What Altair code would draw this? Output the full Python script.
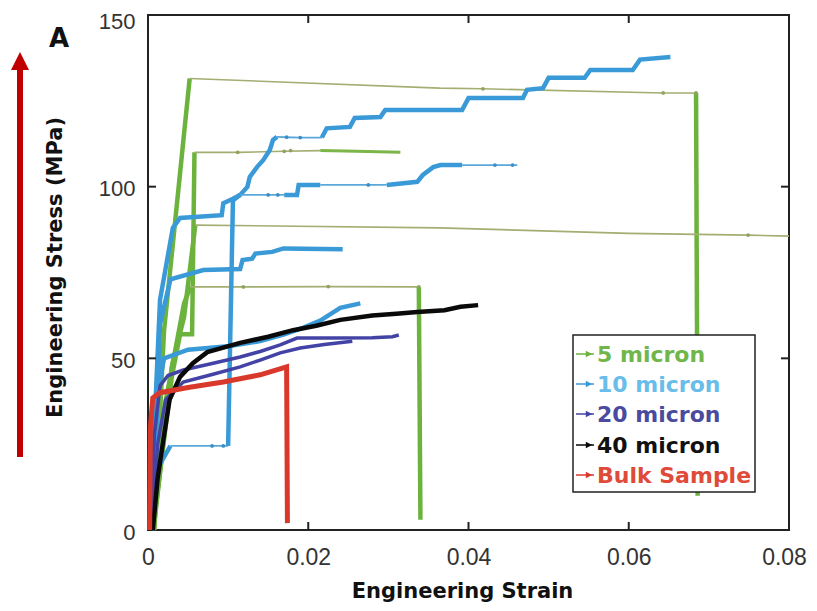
import altair as alt
import pandas as pd

# ------------------------------------------------------------------ data
# axis ticks / labels
x_ticks = [0, 0.02, 0.04, 0.06, 0.08]
y_ticks = [0, 50, 100, 150]
inner_x_ticks = [0.02, 0.04, 0.06]
inner_y_ticks = [50, 100]

# ---- 5 micron (green) specimens
g1_rise_x = [0.0008, 0.0020, 0.0052]
g1_rise_y = [0, 58, 131.5]
g1_flat_x = [0.0052, 0.0364, 0.0418, 0.0643, 0.0684]
g1_flat_y = [131.5, 128.7, 128.5, 127.3, 127.3]
g1_drop_x = [0.0684, 0.0686]
g1_drop_y = [127.3, 10]

g2_rise_x = [0.0006, 0.0030, 0.0040, 0.0055, 0.0058]
g2_rise_y = [0, 45, 57, 57, 110]
g2_flat_x = [0.0058, 0.0112, 0.0170, 0.0215]
g2_flat_y = [110, 110, 110.3, 110.5]
g2_dense_x = [0.0215, 0.0260, 0.0315]
g2_dense_y = [110.5, 110.3, 110]

g3_rise_x = [0.0007, 0.0030, 0.0045, 0.0059]
g3_rise_y = [0, 48, 62, 88.8]
g3_flat_x = [0.0059, 0.0364, 0.0600, 0.0749, 0.0800]
g3_flat_y = [88.8, 88.0, 86.4, 85.9, 85.6]

g4_rise_x = [0.0005, 0.0020, 0.0045, 0.0053]
g4_rise_y = [0, 35, 66, 70.8]
g4_flat_x = [0.0053, 0.0119, 0.0225, 0.0338]
g4_flat_y = [70.8, 70.8, 70.9, 70.8]
g4_drop_x = [0.0338, 0.0340]
g4_drop_y = [70.8, 3]

g_mark_x = [0.0418, 0.0643, 0.0684, 0.0112, 0.0170, 0.0178, 0.0749, 0.0119, 0.0225, 0.0338]
g_mark_y = [128.5, 127.3, 127.3, 110, 110.3, 110.5, 85.9, 70.8, 70.9, 70.8]

# ---- 10 micron (light blue) specimens
b1_rise_x = [0.0004, 0.0012, 0.0028]
b1_rise_y = [0, 18, 24.5]
b1_low_x = [0.0028, 0.0080, 0.0094, 0.0100]
b1_low_y = [24.5, 24.5, 24.5, 24.5]
b1_jump_x = [0.0100, 0.0106, 0.0115, 0.0124, 0.0127, 0.0136, 0.0144, 0.0152, 0.0156, 0.0161]
b1_jump_y = [24.5, 96, 97.6, 99.9, 102.8, 105.7, 107.8, 110.7, 113.6, 114.5]
b1_mid_x = [0.0161, 0.0173, 0.0190, 0.0217]
b1_mid_y = [114.5, 114.4, 114.3, 114.3]
b1_step_x = [0.0217, 0.0223, 0.0252, 0.0258, 0.0290, 0.0296, 0.0392, 0.0400, 0.0468,
             0.0473, 0.0493, 0.0500, 0.0545, 0.0552, 0.0605, 0.0614, 0.0652]
b1_step_y = [114.3, 117, 117.4, 120, 120.3, 122.3, 122.3, 125.8, 125.8,
             128.2, 128.7, 131.7, 131.7, 134, 134, 137, 137.8]

b2_rise_x = [0.0003, 0.0008, 0.0015, 0.0031, 0.0040, 0.0092, 0.0094, 0.0106, 0.0115]
b2_rise_y = [0, 30, 67, 88, 90.9, 91.7, 95.2, 96.5, 97.6]
b2_thin1_x = [0.0115, 0.0150, 0.0162, 0.0170]
b2_thin1_y = [97.6, 97.6, 97.6, 97.6]
b2_thick1_x = [0.0170, 0.0186, 0.0188, 0.0215]
b2_thick1_y = [97.6, 97.6, 100.5, 100.5]
b2_thin2_x = [0.0215, 0.0275, 0.0298]
b2_thin2_y = [100.5, 100.5, 100.5]
b2_thick2_x = [0.0298, 0.0336, 0.0343, 0.0356, 0.0365, 0.0392]
b2_thick2_y = [100.5, 101.4, 103.4, 105.7, 106.3, 106.3]
b2_thin3_x = [0.0392, 0.0433, 0.0455, 0.0461]
b2_thin3_y = [106.3, 106.3, 106.3, 106.3]

b3_x = [0.0006, 0.0015, 0.0028, 0.0069, 0.0115, 0.0118, 0.0130, 0.0134, 0.0155, 0.0169, 0.0243]
b3_y = [0, 60, 73, 75.7, 76, 78.6, 79, 80.5, 81, 82, 81.8]

b4_x = [0.0004, 0.0012, 0.0020, 0.0050, 0.0100, 0.0140, 0.0170, 0.0195, 0.0215, 0.0240, 0.0265]
b4_y = [0, 40, 50, 52.5, 53.5, 55, 57, 59, 61, 64.7, 66]

b_mark_x = [0.0080, 0.0094, 0.0173, 0.0190, 0.0150, 0.0162, 0.0275, 0.0433, 0.0455]
b_mark_y = [24.5, 24.5, 114.4, 114.3, 97.6, 97.6, 100.5, 106.3, 106.3]

# ---- 20 micron (purple) specimens
p1_x = [0.0003, 0.0008, 0.0015, 0.0025, 0.0044, 0.0080, 0.0115, 0.0140, 0.0165, 0.0186,
        0.0230, 0.0280, 0.0305, 0.0313]
p1_y = [0, 28, 42, 45, 46.6, 48.5, 50.4, 52, 53.9, 55.9, 55.9, 56, 56.3, 56.8]
p2_x = [0.0005, 0.0012, 0.0022, 0.0044, 0.0080, 0.0115, 0.0140, 0.0165, 0.0190, 0.0220, 0.0255]
p2_y = [0, 25, 38, 43.1, 45.3, 47.5, 49.5, 51.6, 53, 54, 55]

# ---- 40 micron (black)
k_x = [0.0006, 0.0012, 0.0019, 0.0027, 0.0040, 0.0056, 0.0074, 0.0115, 0.0150, 0.0181,
       0.0210, 0.0240, 0.0280, 0.0310, 0.0336, 0.0370, 0.0390, 0.0412]
k_y = [0, 15, 26, 38, 44.6, 48.6, 51.8, 54.5, 56.3, 58.2, 59.5, 61.2, 62.5, 63, 63.5, 64, 65, 65.5]

# ---- bulk sample (red)
r_x = [0.0002, 0.0003, 0.0006, 0.0015, 0.0050, 0.0094, 0.0140, 0.0173, 0.0174]
r_y = [0, 30, 38.5, 40, 41.5, 43.1, 45.2, 47.5, 2]

legend_labels = ["5 micron", "10 micron", "20 micron", "40 micron", "Bulk Sample"]

# ------------------------------------------------------------------ styles
STYLE = {
    "g_thick": ("#6cb33e", 4.5), "g_thin": ("#a3ae72", 1.6), "g_mid": ("#7cb648", 3),
    "b_thick": ("#3a9ad8", 4.5), "b_thin": ("#5aa8da", 1.8),
    "p": ("#4343a6", 3.5), "k": ("#0a0a0a", 4.5), "r": ("#d9392b", 5),
}
legend_text_colors = ["#70b648", "#68bdea", "#4a4a9e", "#111111", "#df4a39"]
legend_sym_colors = ["#6cb33e", "#3a9ad8", "#4343a6", "#0a0a0a", "#d9392b"]

segments = [
    ("green", "g1r", "g_thick", g1_rise_x, g1_rise_y),
    ("green", "g1f", "g_thin", g1_flat_x, g1_flat_y),
    ("green", "g1d", "g_thick", g1_drop_x, g1_drop_y),
    ("green", "g2r", "g_thick", g2_rise_x, g2_rise_y),
    ("green", "g2f", "g_thin", g2_flat_x, g2_flat_y),
    ("green", "g2d", "g_mid", g2_dense_x, g2_dense_y),
    ("green", "g3r", "g_thick", g3_rise_x, g3_rise_y),
    ("green", "g3f", "g_thin", g3_flat_x, g3_flat_y),
    ("green", "g4r", "g_thick", g4_rise_x, g4_rise_y),
    ("green", "g4f", "g_thin", g4_flat_x, g4_flat_y),
    ("green", "g4d", "g_thick", g4_drop_x, g4_drop_y),
    ("blue", "b1r", "b_thick", b1_rise_x, b1_rise_y),
    ("blue", "b1l", "b_thin", b1_low_x, b1_low_y),
    ("blue", "b1j", "b_thick", b1_jump_x, b1_jump_y),
    ("blue", "b1m", "b_thin", b1_mid_x, b1_mid_y),
    ("blue", "b1s", "b_thick", b1_step_x, b1_step_y),
    ("blue", "b2r", "b_thick", b2_rise_x, b2_rise_y),
    ("blue", "b2a", "b_thin", b2_thin1_x, b2_thin1_y),
    ("blue", "b2b", "b_thick", b2_thick1_x, b2_thick1_y),
    ("blue", "b2c", "b_thin", b2_thin2_x, b2_thin2_y),
    ("blue", "b2d", "b_thick", b2_thick2_x, b2_thick2_y),
    ("blue", "b2e", "b_thin", b2_thin3_x, b2_thin3_y),
    ("blue", "b3", "b_thick", b3_x, b3_y),
    ("blue", "b4", "b_thick", b4_x, b4_y),
    ("purple", "p1", "p", p1_x, p1_y),
    ("purple", "p2", "p", p2_x, p2_y),
    ("black", "k", "k", k_x, k_y),
    ("red", "r", "r", r_x, r_y),
]

rows = []
for grp, seg, kind, xs, ys in segments:
    col, w = STYLE[kind]
    for i, (xv, yv) in enumerate(zip(xs, ys)):
        rows.append({"group": grp, "seg": seg, "strain": xv, "stress": yv,
                     "i": i, "col": col, "w": w})
df = pd.DataFrame(rows)

W, H = 641, 515

X = alt.X("strain:Q", scale=alt.Scale(domain=[0, 0.08], nice=False, zero=False),
          axis=alt.Axis(values=x_ticks, title="Engineering Strain",
                        labelExpr="datum.value == 0 ? '0' : format(datum.value, '.2f')",
                        labelPadding=16, labelFlush=False,
                        labelOffset={"condition": {"test": "datum.value > 0.07", "value": -5},
                                     "value": 0},
                        titleX=314, titleY=67, titleBaseline="alphabetic"))
Y = alt.Y("stress:Q", scale=alt.Scale(domain=[0, 150], nice=False),
          axis=alt.Axis(values=y_ticks, title="Engineering Stress (MPa)",
                        labelPadding=13, labelFontSize=22, labelFlush=False,
                        labelOffset={"condition": {"test": "datum.value > 140", "value": 6},
                                     "value": 2},
                        titleAngle=270, titleX=-93, titleY=252,
                        titleBaseline="middle", titleAlign="center"))

layers = []
for grp in ["green", "blue", "purple", "black", "red"]:
    layers.append(
        alt.Chart(df[df.group == grp]).mark_line(strokeCap="butt", strokeJoin="miter").encode(
            x=X, y=Y, detail="seg:N", order="i:Q",
            color=alt.Color("col:N", scale=None),
            strokeWidth=alt.StrokeWidth("w:Q", scale=None),
        )
    )
    if grp == "green":
        layers.append(
            alt.Chart(pd.DataFrame({"strain": g_mark_x, "stress": g_mark_y}))
            .mark_circle(size=14, color="#8fa35c", opacity=1).encode(x=X, y=Y))
    if grp == "blue":
        layers.append(
            alt.Chart(pd.DataFrame({"strain": b_mark_x, "stress": b_mark_y}))
            .mark_circle(size=14, color="#3a8fc8", opacity=1).encode(x=X, y=Y))

# inward tick marks on all four sides
tx = pd.DataFrame({"strain": inner_x_ticks})
ty = pd.DataFrame({"stress": inner_y_ticks})
tick_style = dict(color="#222", strokeWidth=2)
layers += [
    alt.Chart(tx).mark_rule(**tick_style).encode(x=X, y=alt.value(H), y2=alt.value(H - 8)),
    alt.Chart(tx).mark_rule(**tick_style).encode(x=X, y=alt.value(0), y2=alt.value(8)),
    alt.Chart(ty).mark_rule(**tick_style).encode(y=Y, x=alt.value(0), x2=alt.value(8)),
    alt.Chart(ty).mark_rule(**tick_style).encode(y=Y, x=alt.value(W), x2=alt.value(W - 8)),
]

one = pd.DataFrame({"a": [0]})
# panel letter and red arrow
layers += [
    alt.Chart(one).mark_text(text="A", font="DejaVu Sans", fontWeight="bold", fontSize=26,
                             color="#111", align="center", baseline="alphabetic")
    .encode(x=alt.value(-89), y=alt.value(32)),
    alt.Chart(one).mark_rule(color="#c00000", strokeWidth=6)
    .encode(x=alt.value(-128), y=alt.value(442), y2=alt.value(54)),
    alt.Chart(one).mark_point(shape="M0,-1L1,1L-1,1Z", filled=True, size=324,
                              color="#c00000", opacity=1)
    .encode(x=alt.value(-128), y=alt.value(46)),
]

# legend box
layers.append(
    alt.Chart(one).mark_rect(fill="white", stroke="#222", strokeWidth=1.5)
    .encode(x=alt.value(425), x2=alt.value(607), y=alt.value(320), y2=alt.value(477)))
leg_y = [339, 369, 399, 430, 460]
for lab, tc, sc, yy in zip(legend_labels, legend_text_colors, legend_sym_colors, leg_y):
    layers += [
        alt.Chart(one).mark_rule(color=sc, strokeWidth=1.5)
        .encode(x=alt.value(428), x2=alt.value(446), y=alt.value(yy)),
        alt.Chart(one).mark_point(shape="M-1,-1L1,0L-1,1Z", filled=True, size=40, color=sc, opacity=1)
        .encode(x=alt.value(441), y=alt.value(yy)),
        alt.Chart(one).mark_text(text=lab, font="DejaVu Sans", fontWeight="bold", fontSize=22,
                                 color=tc, align="left", baseline="middle")
        .encode(x=alt.value(449), y=alt.value(yy + 1)),
    ]

chart = alt.layer(*layers).properties(
    width=W, height=H,
    autosize=alt.AutoSizeParams(type="none"),
    padding={"left": 140, "top": 7, "right": 20, "bottom": 73},
    background="white",
).configure_view(stroke="#222", strokeWidth=2).configure_axis(
    domain=False, ticks=False, tickSize=0, grid=False,
    labelFont="Liberation Sans", labelFontSize=23, labelColor="#333",
    titleFont="DejaVu Sans", titleFontSize=21, titleFontWeight="bold", titleColor="#111",
)

chart.save("out.html", embed_options={"renderer": "svg", "actions": False})
